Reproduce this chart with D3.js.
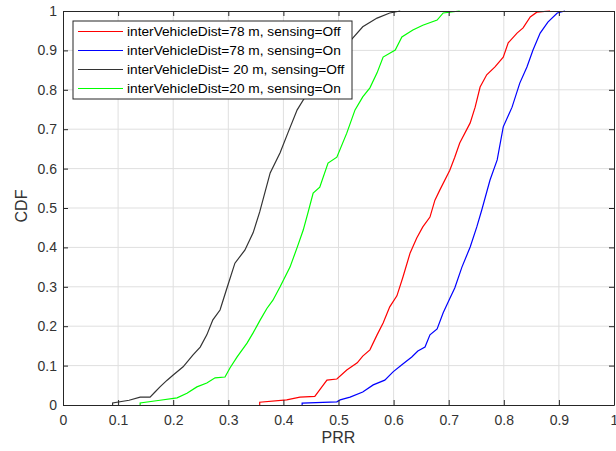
<!DOCTYPE html>
<html>
<head>
<meta charset="UTF-8">
<script src="https://d3js.org/d3.v7.min.js"></script>
<style>
    body { margin: 0; background: #fff; font-family: "Liberation Sans", Arial, sans-serif; }
    .tick text { font-size: 14px; fill: #333; }
    .axis-label { font-size: 16px; fill: #333; }
    .legend text { font-size: 13.7px; fill: #000; }
</style>
</head>
<body>
<svg id="chart" width="616" height="451"></svg>
<script>
    const red78Off = [[0.357,0],[0.357,0.007],[0.406,0.013],[0.43,0.02],[0.457,0.022],[0.479,0.063],[0.497,0.066],
        [0.515,0.089],[0.534,0.107],[0.544,0.124],[0.557,0.14],[0.570,0.178],[0.581,0.208],[0.593,0.249],[0.606,0.277],
        [0.617,0.325],[0.630,0.386],[0.642,0.424],[0.653,0.452],[0.666,0.477],[0.675,0.52],[0.684,0.546],[0.702,0.596],
        [0.711,0.629],[0.72,0.665],[0.739,0.716],[0.748,0.756],[0.757,0.807],[0.769,0.838],[0.784,0.858],[0.799,0.883],
        [0.808,0.919],[0.824,0.944],[0.835,0.957],[0.848,0.985],[0.860,0.997],[0.884,1]];
    const blue78On = [[0.434,0],[0.434,0.005],[0.497,0.008],[0.503,0.013],[0.521,0.02],[0.544,0.033],[0.563,0.051],
        [0.584,0.063],[0.599,0.084],[0.615,0.102],[0.633,0.122],[0.644,0.137],[0.657,0.147],[0.666,0.178],[0.679,0.193],
        [0.690,0.234],[0.702,0.270],[0.711,0.297],[0.724,0.35],[0.739,0.401],[0.751,0.452],[0.760,0.495],[0.775,0.571],
        [0.788,0.622],[0.799,0.706],[0.815,0.756],[0.829,0.817],[0.842,0.858],[0.853,0.901],[0.866,0.944],[0.880,0.972],
        [0.897,0.995],[0.911,1]];
    const black20Off = [[0.09,0],[0.09,0.005],[0.12,0.012],[0.14,0.02],[0.158,0.02],[0.167,0.033],[0.176,0.046],
        [0.189,0.063],[0.2,0.076],[0.218,0.097],[0.236,0.127],[0.249,0.147],[0.261,0.178],[0.272,0.216],[0.285,0.241],
        [0.296,0.29],[0.312,0.36],[0.330,0.393],[0.345,0.437],[0.357,0.49],[0.376,0.589],[0.394,0.64],[0.408,0.69],
        [0.425,0.749],[0.443,0.79],[0.47,0.845],[0.50,0.89],[0.525,0.93],[0.544,0.96],[0.570,0.982],[0.593,0.995],[0.612,1]];
    const green20On = [[0.14,0],[0.14,0.005],[0.176,0.012],[0.207,0.018],[0.225,0.03],[0.243,0.046],[0.261,0.056],
        [0.276,0.069],[0.294,0.071],[0.303,0.094],[0.316,0.122],[0.334,0.157],[0.345,0.183],[0.358,0.216],[0.370,0.245],
        [0.381,0.266],[0.394,0.30],[0.412,0.35],[0.425,0.40],[0.436,0.444],[0.445,0.49],[0.454,0.538],[0.466,0.553],
        [0.481,0.614],[0.497,0.629],[0.515,0.69],[0.530,0.749],[0.544,0.782],[0.557,0.805],[0.570,0.843],[0.581,0.883],
        [0.603,0.901],[0.615,0.934],[0.635,0.952],[0.653,0.964],[0.679,0.977],[0.690,0.995],[0.72,1]];

    const seriesNames = ["interVehicleDist=78 m, sensing=Off", "interVehicleDist=78 m, sensing=On",
                         "interVehicleDist= 20 m, sensing=Off", "interVehicleDist=20 m, sensing=On"];
    const seriesColors = ["#ff0000", "#0000ff", "#333333", "#00ff00"];
    const seriesData = [red78Off, blue78On, black20Off, green20On];
    const tickValues = [0, 0.1, 0.2, 0.3, 0.4, 0.5, 0.6, 0.7, 0.8, 0.9, 1];

    const margin = {top: 11, right: 2, bottom: 46, left: 63},
          width = 616 - margin.left - margin.right,
          height = 451 - margin.top - margin.bottom;

    const svg = d3.select("#chart")
        .append("g")
        .attr("transform", `translate(${margin.left},${margin.top})`);

    const x = d3.scaleLinear().domain([0, 1]).range([0, width]);
    const y = d3.scaleLinear().domain([0, 1]).range([height, 0]);

    // grid
    svg.append("g").selectAll("line").data(tickValues.slice(1, -1)).enter()
        .append("line")
        .attr("x1", d => x(d)).attr("x2", d => x(d))
        .attr("y1", 0).attr("y2", height)
        .attr("stroke", "#dfdfdf");
    svg.append("g").selectAll("line").data(tickValues.slice(1, -1)).enter()
        .append("line")
        .attr("y1", d => y(d)).attr("y2", d => y(d))
        .attr("x1", 0).attr("x2", width)
        .attr("stroke", "#dfdfdf");

    // curves
    const line = d3.line().x(d => x(d[0])).y(d => y(d[1]));
    seriesData.forEach((data, i) => {
        svg.append("path")
            .datum(data)
            .attr("d", line)
            .attr("fill", "none")
            .attr("stroke", seriesColors[i])
            .attr("stroke-width", 1.2);
    });

    // axes, ticks inward on all sides
    svg.append("g")
        .attr("transform", `translate(0,${height})`)
        .call(d3.axisBottom(x).tickValues(tickValues).tickFormat(d3.format("")).tickSizeInner(-5).tickSizeOuter(0).tickPadding(10));
    svg.append("g")
        .call(d3.axisLeft(y).tickValues(tickValues).tickFormat(d3.format("")).tickSizeInner(-5).tickSizeOuter(0).tickPadding(6));
    svg.append("g")
        .call(d3.axisTop(x).tickValues(tickValues).tickFormat("").tickSizeInner(-5).tickSizeOuter(0));
    svg.append("g")
        .attr("transform", `translate(${width},0)`)
        .call(d3.axisRight(y).tickValues(tickValues).tickFormat("").tickSizeInner(-5).tickSizeOuter(0));
    svg.selectAll(".domain, .tick line").attr("stroke", "#262626");

    svg.append("text")
        .attr("class", "axis-label")
        .attr("text-anchor", "middle")
        .attr("x", width / 2)
        .attr("y", height + 38)
        .text("PRR");

    svg.append("text")
        .attr("class", "axis-label")
        .attr("text-anchor", "middle")
        .attr("transform", "rotate(-90)")
        .attr("x", -height / 2 + 2)
        .attr("y", -36)
        .text("CDF");

    // legend
    const legend = svg.append("g").attr("class", "legend").attr("transform", "translate(10,10)");
    legend.append("rect")
        .attr("x", 0).attr("y", 0)
        .attr("width", 279).attr("height", 78)
        .attr("fill", "#fff")
        .attr("stroke", "#262626");
    seriesNames.forEach((name, i) => {
        const ly = 10.5 + i * 19;
        legend.append("line")
            .attr("x1", 5).attr("x2", 50)
            .attr("y1", ly).attr("y2", ly)
            .attr("stroke", seriesColors[i])
            .attr("stroke-width", 1.2);
        legend.append("text")
            .attr("x", 54).attr("y", ly)
            .attr("dy", "0.35em")
            .text(name);
    });
</script>
</body>
</html>
